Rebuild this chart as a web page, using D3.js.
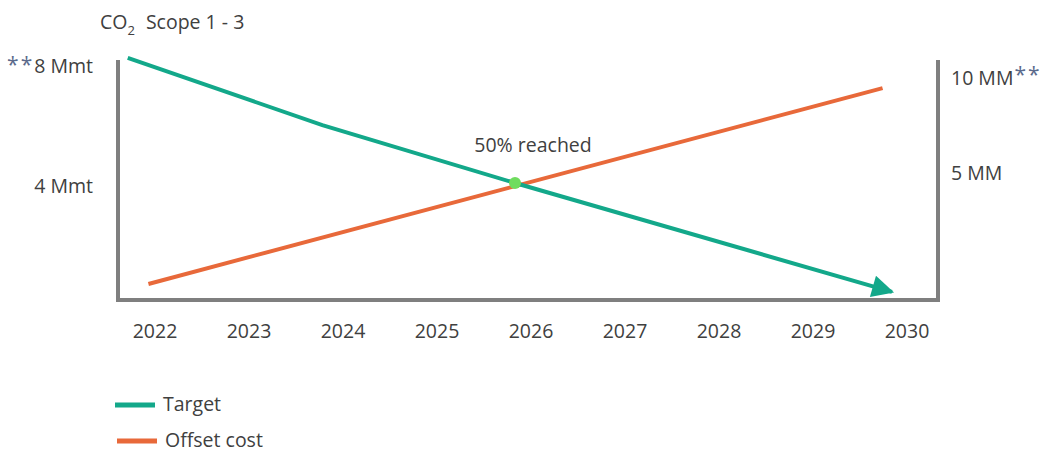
<!DOCTYPE html>
<html>
<head>
<meta charset="utf-8">
<script src="https://cdn.jsdelivr.net/npm/d3@7"></script>
<style>
  body { margin: 0; background: #fff; }
  text { font-family: "Open Sans", sans-serif; fill: #404040; }
</style>
</head>
<body>
<svg id="chart"></svg>
<script>
const YEARS = [2022, 2023, 2024, 2025, 2026, 2027, 2028, 2029, 2030];
// target (Mmt, left axis)
const TARGET_X = [2021.71, 2023.78, 2025.83, 2029.84];
const TARGET_Y = [8.27, 6.03, 4.1, 0.47];
// offset cost (MM, right axis)
const COST_X = [2021.93, 2029.74];
const COST_Y = [-0.84, 9.47];
const LEFT_TICKS = [8, 4];
const LEFT_LABELS = ["8 Mmt", "4 Mmt"];
const RIGHT_TICKS = [10, 5];
const RIGHT_LABELS = ["10 MM", "5 MM"];
const MILESTONE = {year: 2025.83, value: 4.1, label: "50% reached"};

var width = 1041, height = 450;
var green = "#13a88a", orange = "#e8693a", grey = "#7f7f7f";
var fs = "19.5px";

var svg = d3.select("#chart").attr("width", width).attr("height", height);

var x = d3.scaleLinear().domain([2022, 2030]).range([155, 907]);
var yL = d3.scaleLinear().domain([0, 8]).range([306, 66]);
var yR = d3.scaleLinear().domain([0, 10]).range([268, 78]);

// frame
svg.append("path")
  .attr("d", "M118,60 L118,300 L938,300 L938,60")
  .attr("fill", "none")
  .attr("stroke", grey)
  .attr("stroke-width", 4);

/********* X labels ***********/
svg.selectAll(".xlab")
  .data(YEARS)
  .enter()
  .append("text")
  .attr("x", d => x(d))
  .attr("y", 338)
  .attr("text-anchor", "middle")
  .style("font-size", fs)
  .text(d => d);

/********* Y labels ***********/
var leftG = svg.selectAll(".ylab")
  .data(LEFT_TICKS)
  .enter()
  .append("text")
  .attr("x", 93)
  .attr("y", d => yL(d) + 7)
  .attr("text-anchor", "end")
  .style("font-size", fs);
leftG.filter((d, i) => i == 0).append("tspan")
  .style("fill", "#5b6a8c").style("font-size", "21px").attr("dy", -1).attr("letter-spacing", 2).text("**");
leftG.append("tspan").attr("dy", (d, i) => i == 0 ? 1 : 0)
  .text((d, i) => LEFT_LABELS[i]);

var rightG = svg.selectAll(".yrlab")
  .data(RIGHT_TICKS)
  .enter()
  .append("text")
  .attr("x", 951)
  .attr("y", d => yR(d) + 7)
  .style("font-size", fs);
rightG.append("tspan").text((d, i) => RIGHT_LABELS[i]);
rightG.filter((d, i) => i == 0).append("tspan")
  .style("fill", "#5b6a8c").style("font-size", "21px").attr("dy", -3).attr("dx", 1).attr("letter-spacing", 2).text("**");

// title
var title = svg.append("text").attr("x", 100).attr("y", 29).style("font-size", fs);
title.append("tspan").text("CO");
title.append("tspan").attr("dy", 6).style("font-size", "13px").text("2");
title.append("tspan").attr("dy", -6).attr("dx", 11).text("Scope 1 - 3");

/********* Lines ***********/
svg.append("defs").append("marker")
  .attr("id", "arrow")
  .attr("viewBox", "0 0 10 10")
  .attr("refX", 9).attr("refY", 5)
  .attr("markerWidth", 7).attr("markerHeight", 5.5)
  .attr("markerUnits", "strokeWidth")
  .attr("orient", "auto")
  .append("path")
  .attr("d", "M0,0 L10,5 L0,10 Z")
  .attr("fill", green);

var costData = COST_X.map((d, i) => [d, COST_Y[i]]);
svg.append("path")
  .datum(costData)
  .attr("d", d3.line().x(d => x(d[0])).y(d => yR(d[1])))
  .attr("fill", "none")
  .attr("stroke", orange)
  .attr("stroke-width", 4);

var targetData = TARGET_X.map((d, i) => [d, TARGET_Y[i]]);
svg.append("path")
  .datum(targetData)
  .attr("d", d3.line().x(d => x(d[0])).y(d => yL(d[1])))
  .attr("fill", "none")
  .attr("stroke", green)
  .attr("stroke-width", 4)
  .attr("marker-end", "url(#arrow)");

svg.append("circle")
  .attr("cx", x(MILESTONE.year))
  .attr("cy", yL(MILESTONE.value))
  .attr("r", 6)
  .attr("fill", "#6fdc5e");

svg.append("text")
  .attr("x", x(MILESTONE.year) + 18)
  .attr("y", yL(MILESTONE.value) - 31)
  .attr("text-anchor", "middle")
  .style("font-size", fs)
  .text(MILESTONE.label);

/********* Legend ***********/
var legend = [{name: "Target", color: green, y: 405, x: 115}, {name: "Offset cost", color: orange, y: 441, x: 117}];
legend.forEach(function(l) {
  svg.append("line")
    .attr("x1", l.x).attr("x2", l.x + 40)
    .attr("y1", l.y).attr("y2", l.y)
    .attr("stroke", l.color).attr("stroke-width", 5);
  svg.append("text")
    .attr("x", l.x + 48).attr("y", l.y + 6)
    .style("font-size", fs)
    .text(l.name);
});
</script>
</body>
</html>
